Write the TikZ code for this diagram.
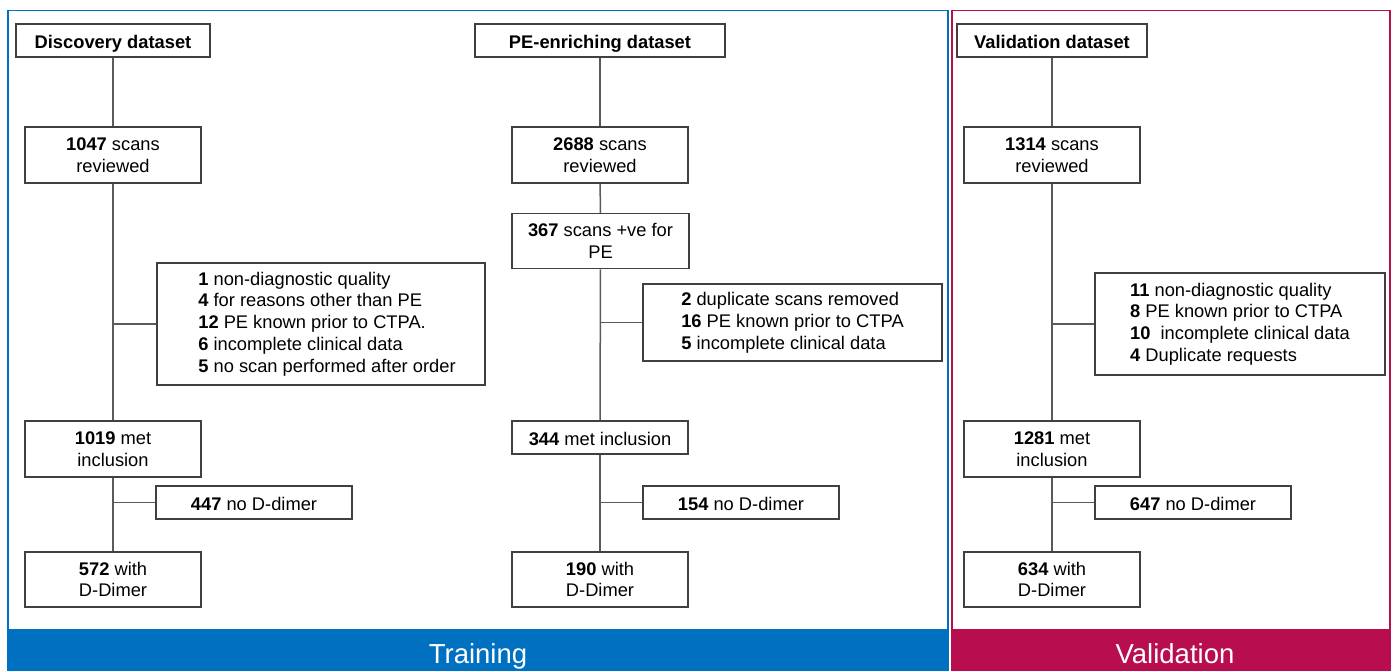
\documentclass[tikz,border=0pt]{standalone}
\usepackage{fontspec}
\setmainfont{Liberation Sans}
\definecolor{trainblue}{HTML}{0070C0}
\definecolor{valred}{HTML}{B80D4E}
\definecolor{boxgray}{HTML}{404040}
\definecolor{linegray}{HTML}{5A5A5A}
\newcommand{\boxfont}{\fontsize{18.3}{21.8}\selectfont}
\newcommand{\ind}{\hspace*{12pt}}
\tikzset{
	flowbox/.style={draw=boxgray,line width=1.5pt,fill=white,inner sep=0pt,align=center,font=\boxfont},
	smallbox/.style={flowbox,minimum width=176pt,minimum height=56pt},
	flatbox/.style={flowbox,minimum height=33pt,text height=16.5pt,text depth=1.5pt},
	bandtext/.style={white,anchor=base,font=\fontsize{27.5}{30}\selectfont},
	link/.style={draw=linegray,line width=1.5pt}
}
\begin{document}
\begin{tikzpicture}[x=1pt,y=-1pt]
		\useasboundingbox (0,0) rectangle (1391,670);
		%%%% Rahmen und Balken
		\draw[trainblue,line width=1.5pt] (8,10.5) rectangle (948,670);
		\fill[trainblue] (8,629) rectangle (948,670);
		\draw[valred,line width=1.5pt] (952,10.5) rectangle (1390,670);
		\fill[valred] (952,629) rectangle (1391,670);
		\node[bandtext] (train) at (478,663) {Training};
		\node[bandtext] (valid) at (1175,663) {Validation};
		%%%% Discovery
		\node[flatbox,minimum width=194pt] (disc) at (113,40.5) {\textbf{Discovery dataset}};
		\node[smallbox] (rev1) at (113,155) {\textbf{1047} scans\\reviewed};
		\node[flowbox,minimum width=328pt,minimum height=122pt,align=left] (excl1) at (321,324) {\ind\textbf{1} non-diagnostic quality\\\ind\textbf{4} for reasons other than PE\\\ind\textbf{12} PE known prior to CTPA.\\\ind\textbf{6} incomplete clinical data\\\ind\textbf{5} no scan performed after order};
		\node[smallbox] (inc1) at (113,449) {\textbf{1019} met\\inclusion};
		%%%% PE-enriching
		\node[flatbox,minimum width=250pt] (pe) at (600,40.5) {\textbf{PE-enriching dataset}};
		\node[smallbox] (rev2) at (600,155) {\textbf{2688} scans\\reviewed};
		\node[smallbox,minimum width=177pt,minimum height=55pt] (pos2) at (600.5,241) {\textbf{367} scans +ve for\\PE};
		\node[flowbox,minimum width=299pt,minimum height=77pt,align=left] (excl2) at (792.5,322.5) {\textbf{2} duplicate scans removed\\\textbf{16} PE known prior to CTPA\\\textbf{5} incomplete clinical data};
		\node[flatbox,minimum width=176pt] (inc2) at (600,437.5) {\textbf{344} met inclusion};
		%%%% Validation
		\node[flatbox,minimum width=190pt] (val) at (1052,40.5) {\textbf{Validation dataset}};
		\node[smallbox] (rev3) at (1052,155) {\textbf{1314} scans\\reviewed};
		\node[flowbox,minimum width=290pt,minimum height=102pt,align=left] (excl3) at (1240,324) {\textbf{11} non-diagnostic quality\\\textbf{8} PE known prior to CTPA\\\textbf{10}\ \ incomplete clinical data\\\textbf{4} Duplicate requests};
		\node[smallbox] (inc3) at (1052,449) {\textbf{1281} met\\inclusion};
		% D-Dimer Boxen
		\foreach \n/\x/\nx/\a/\b in {1/113/254/447/572,2/600/741/154/190,3/1052/1193/647/634} {
			\node[flatbox,minimum width=196pt] (nod\n) at (\nx,502.5) {\textbf{\a} no D-dimer};
			\node[smallbox,minimum height=55pt] (dd\n) at (\x,579.5) {\textbf{\b} with\\D-Dimer};
		}
		%%%% Linien
		\draw[link] (disc) -- (rev1);
		\draw[link] (rev1) -- (inc1);
		\draw[link] (pe) -- (rev2);
		\draw[link] (rev2) -- (pos2);
		\draw[link] (pos2) -- (inc2);
		\draw[link] (val) -- (rev3);
		\draw[link] (rev3) -- (inc3);
		\foreach \n in {1,2,3} {
			\draw[link] (inc\n) -- (dd\n);
			\draw[link] (inc\n.south |- nod\n.west) -- (nod\n.west);
		}
		\draw[link] (rev1.south |- excl1.west) -- (excl1.west);
		\draw[link] (pos2.south |- excl2.west) -- (excl2.west);
		\draw[link] (rev3.south |- excl3.west) -- (excl3.west);
\end{tikzpicture}
\end{document}
